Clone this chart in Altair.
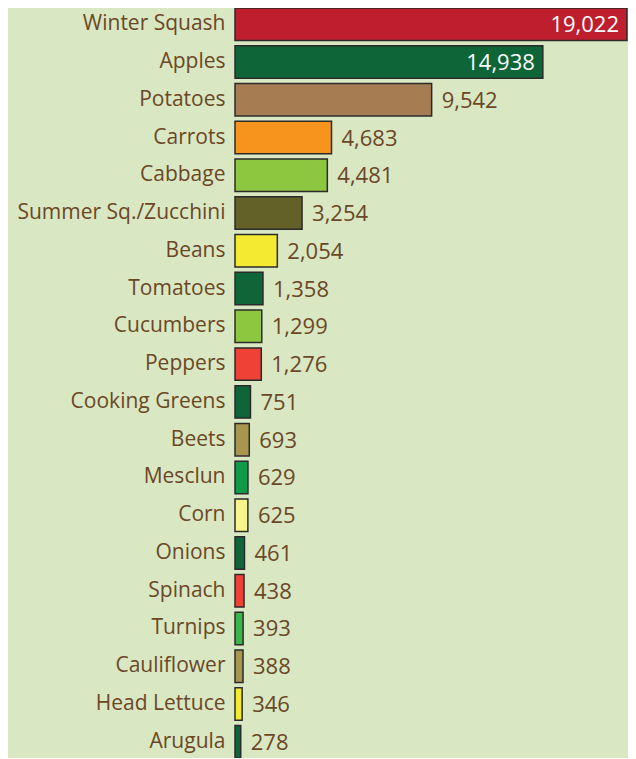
import altair as alt
import pandas as pd

crops = [
    "Winter Squash", "Apples", "Potatoes", "Carrots", "Cabbage",
    "Summer Sq./Zucchini", "Beans", "Tomatoes", "Cucumbers", "Peppers",
    "Cooking Greens", "Beets", "Mesclun", "Corn", "Onions",
    "Spinach", "Turnips", "Cauliflower", "Head Lettuce", "Arugula",
]
pounds = [
    19022, 14938, 9542, 4683, 4481,
    3254, 2054, 1358, 1299, 1276,
    751, 693, 629, 625, 461,
    438, 393, 388, 346, 278,
]
bar_colors = [
    "#be1e2d", "#0e6638", "#a67c52", "#f7941d", "#8dc63f",
    "#636128", "#f4ea30", "#0e6638", "#8dc63f", "#ef4136",
    "#0e6638", "#a8964f", "#0f9a48", "#f8f48c", "#0e6638",
    "#ef4136", "#39b54a", "#a8964f", "#f4ea30", "#0e6638",
]

df = pd.DataFrame({"crop": crops, "pounds": pounds})
df["label"] = [f"{v:,}" for v in pounds]

BG = "#d9e8c3"
TXT = "#6b4726"
FONT = "Open Sans"
FS = 21
NFS = 22

x = alt.X("pounds:Q", scale=alt.Scale(domain=[0, 19022], nice=False, zero=True), axis=None)
y = alt.Y(
    "crop:N",
    sort=crops,
    scale=alt.Scale(paddingInner=0.14, paddingOuter=0),
    axis=alt.Axis(
        title=None, domain=False, ticks=False, labelFontSize=FS,
        labelColor=TXT, labelFont=FONT, labelPadding=10, labelLimit=0,
    ),
)

bars = alt.Chart(df).mark_bar(stroke="#2b2b2b", strokeWidth=1.5).encode(
    x=x,
    y=y,
    color=alt.Color("crop:N", scale=alt.Scale(domain=crops, range=bar_colors), legend=None),
)

outside = alt.Chart(df).transform_filter("datum.pounds < 10000").mark_text(
    align="left", dx=10, dy=1, fontSize=NFS, color=TXT, font=FONT
).encode(x=x, y=y, text="label:N")

inside = alt.Chart(df).transform_filter("datum.pounds >= 10000").mark_text(
    align="right", dx=-8, dy=1, fontSize=NFS, color="white", font=FONT
).encode(x=x, y=y, text="label:N")

chart = alt.layer(bars, outside, inside).properties(
    width=392,
    height=750,
    background=BG,
    padding={"left": 227, "top": 0, "right": 1, "bottom": 0},
    autosize="none",
).configure_view(stroke=None)

chart.save("out.html", embed_options={"renderer": "svg", "actions": False})
